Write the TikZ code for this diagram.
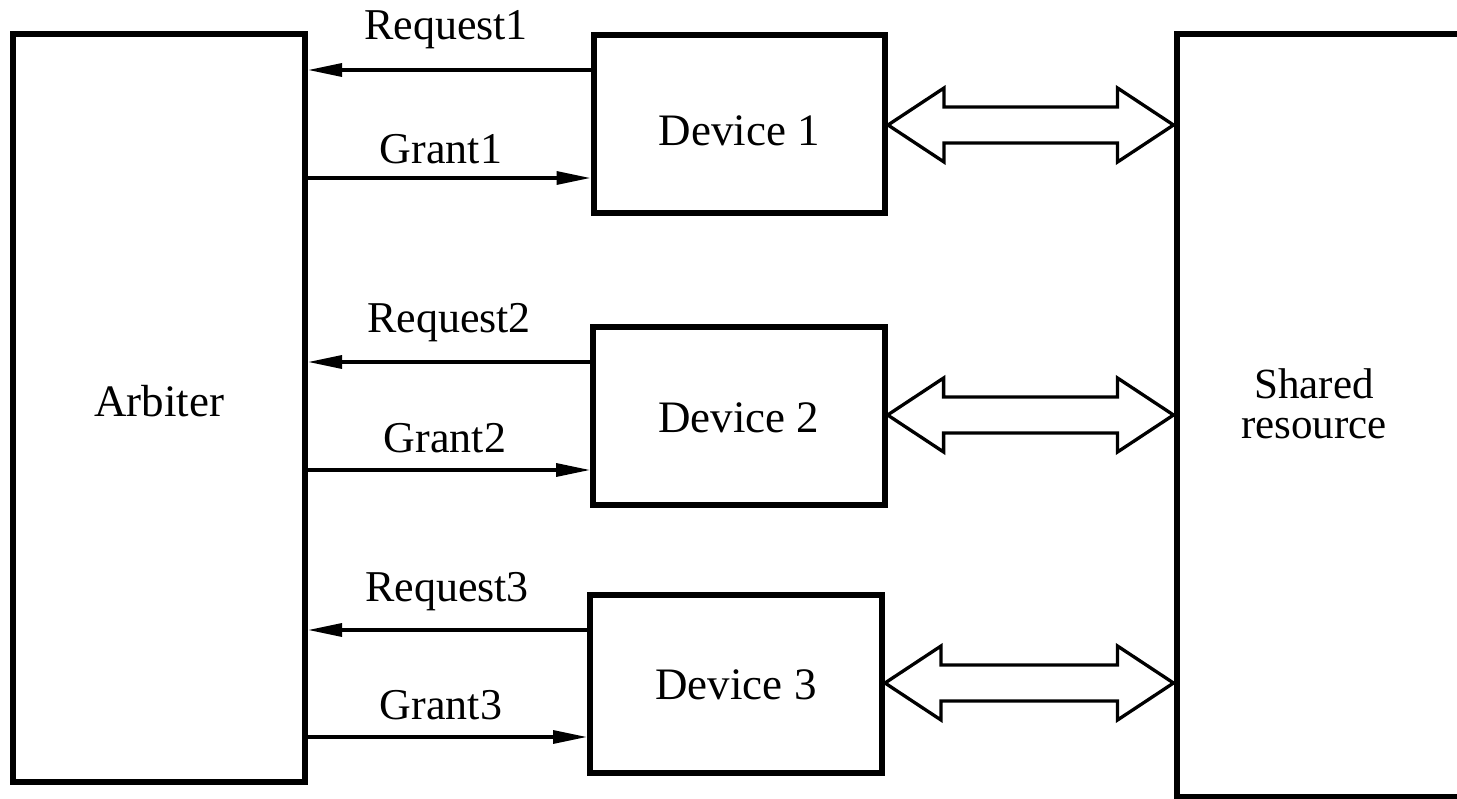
\documentclass[tikz,border=0pt]{standalone}
\usepackage{fontspec}
\setmainfont{Liberation Serif}
\usetikzlibrary{arrows.meta,calc}
\tikzset{
  blk/.style={draw=black, line width=6pt, rectangle, inner sep=0pt, fill=none},
  devbox/.style={blk, minimum width=291.5pt, minimum height=178pt, text height=30pt, text depth=0pt, font=\fontsize{45}{54}\selectfont},
  sig/.style={draw=black, line width=3.3pt, -{Triangle[length=34pt,width=13pt]}},
  dbl/.style={draw=black, line width=3.3pt, line join=miter},
  lbl/.style={inner sep=0pt, anchor=base, font=\fontsize{44}{53}\selectfont},
}
\newcommand\bidir[3]{%
  \draw[dbl] (#1.east|-0,#3) -- ++(56,-37) -- ++(0,19)
    -- ($(#2.west|-0,#3)+(-56,-18)$) -- ++(0,-19) -- (#2.west|-0,#3)
    -- ++(-56,37) -- ++(0,-19) -- ($(#1.east|-0,#3)+(56,18)$) -- ++(0,19) -- cycle;}
\begin{document}
\begin{tikzpicture}[x=1pt,y=-1pt]
\useasboundingbox (0,0) rectangle (1457,799);
\clip (0,0) rectangle (1457,799);
% boxes
\node[blk, minimum width=292pt, minimum height=747.5pt] (arb) at (159,407.75) {};
\node[devbox] (d1) at (739.25,124) {\raisebox{-7pt}{Device 1}};
\node[devbox] (d2) at (738.85,416) {\raisebox{-2pt}{Device 2}};
\node[devbox, minimum width=292pt, minimum height=178.5pt] (d3) at (736,683.75) {\raisebox{-1pt}{Device 3}};
\node[blk, minimum width=383.5pt, minimum height=763pt] (sr) at (1368.25,415.5) {};
% box texts
\node[lbl, font=\fontsize{45}{54}\selectfont] (arbt) at (159,417) {Arbiter};
\node[inner sep=0pt, align=center, font=\fontsize{43}{40}\selectfont] (srt) at (1314,404) {Shared\\resource};
% request / grant
\draw[sig] (d1.west|-0,70) -- (arb.east|-0,70);
\draw[sig] (arb.east|-0,178) -- (d1.west|-0,178);
\draw[sig] (d2.west|-0,362) -- (arb.east|-0,362);
\draw[sig] (arb.east|-0,470) -- (d2.west|-0,470);
\draw[sig] (d3.west|-0,630) -- (arb.east|-0,630);
\draw[sig] (arb.east|-0,737) -- (d3.west|-0,737);
\node[lbl] (r1) at (446,40) {Request1};
\node[lbl] (g1) at (441,164) {Grant1};
\node[lbl] (r2) at (449,333) {Request2};
\node[lbl] (g2) at (445,453) {Grant2};
\node[lbl] (r3) at (447,601) {Request3};
\node[lbl] (g3) at (441,719) {Grant3};
% bidirectional buses
\bidir{d1}{sr}{125}
\bidir{d2}{sr}{415}
\bidir{d3}{sr}{683}
\end{tikzpicture}
\end{document}
